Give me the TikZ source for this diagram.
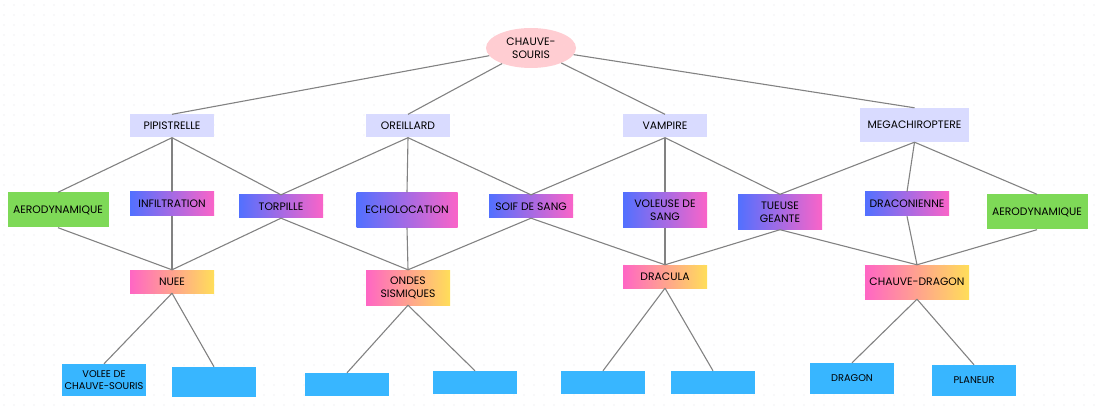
\documentclass[tikz,border=0pt]{standalone}
\usepackage{fontspec}
\setmainfont{Poppins}
\usetikzlibrary{shapes.geometric}
\definecolor{rootpink}{RGB}{255,205,210}
\definecolor{genrelav}{RGB}{217,219,255}
\definecolor{traitblue}{RGB}{82,112,255}
\definecolor{traitpink}{RGB}{250,100,200}
\definecolor{aerogreen}{RGB}{126,217,87}
\definecolor{hybpink}{RGB}{255,102,196}
\definecolor{hybyellow}{RGB}{255,222,89}
\definecolor{leafblue}{RGB}{56,182,255}
\definecolor{linkgray}{RGB}{130,130,130}
\definecolor{dotgray}{RGB}{225,225,228}
\tikzset{
  box/.style={inner sep=1pt, align=center, text=black,
    font=\fontsize{10.8}{13}\selectfont, minimum width=84pt, minimum height=23pt},
  rootnode/.style={ellipse, fill=rootpink, minimum width=90pt, minimum height=40pt,
    inner sep=0pt, align=center, text=black, font=\fontsize{10.8}{13.5}\selectfont},
  genrebox/.style={box, fill=genrelav},
  traitbox/.style={box, left color=traitblue, right color=traitpink},
  aerobox/.style={box, fill=aerogreen, minimum width=101pt, minimum height=35pt},
  hybbox/.style={box, left color=hybpink, right color=hybyellow},
  leafbox/.style={box, fill=leafblue, font=\fontsize{9.8}{11.5}\selectfont},
  link/.style={draw=linkgray, line width=1.1pt}
}

\begin{document}
\begin{tikzpicture}[x=1pt, y=-1pt]
  \useasboundingbox (0,0) rectangle (1103,414);
  % dotted canvas
  \foreach \gx in {4,14,...,1100}
    \foreach \gy in {5,15,...,410}
      \fill[dotgray] (\gx,\gy) circle (0.55);

  % root
  \node[rootnode] (root) at (531,48) {CHAUVE-\\SOURIS};

  % genres
  \node[genrebox] (pip) at (172,126) {PIPISTRELLE};
  \node[genrebox] (ore) at (408,126) {OREILLARD};
  \node[genrebox] (vam) at (665,126) {VAMPIRE};
  \node[genrebox, minimum width=109pt, minimum height=34pt] (meg) at (914.5,125) {MEGACHIROPTERE};

  % traits
  \node[aerobox] (aeroL) at (58,210) {AERODYNAMIQUE};
  \node[traitbox, minimum height=24pt] (infil) at (172,204) {INFILTRATION};
  \node[traitbox] (torp) at (281,206.5) {TORPILLE};
  \node[traitbox, minimum width=101pt, minimum height=35pt] (echo) at (407,210) {ECHOLOCATION};
  \node[traitbox] (soif) at (531,206.5) {SOIF DE SANG};
  \node[traitbox, minimum height=35pt] (vol) at (665,210) {VOLEUSE DE\\SANG};
  \node[traitbox, minimum height=35pt] (tue) at (780,212) {TUEUSE\\GEANTE};
  \node[traitbox, minimum height=24pt] (draco) at (907,204) {DRACONIENNE};
  \node[aerobox] (aeroR) at (1037,212) {AERODYNAMIQUE};

  % hybrids
  \node[hybbox] (nuee) at (172,281.5) {NUEE};
  \node[hybbox, minimum height=35pt] (ondes) at (408,287.5) {ONDES\\SISMIQUES};
  \node[hybbox] (dracula) at (665,276.5) {DRACULA};
  \node[hybbox, minimum width=104pt, minimum height=34pt] (cdragon) at (917,282) {CHAUVE-DRAGON};

  % leaves
  \node[leafbox, minimum height=32pt] (volee) at (104,380) {VOLEE DE\\CHAUVE-SOURIS};
  \node[leafbox, minimum height=30pt] (leafB) at (214,382) {};
  \node[leafbox] (leafC) at (347,384.5) {};
  \node[leafbox] (leafD) at (475,382.5) {};
  \node[leafbox] (leafE) at (603,382.5) {};
  \node[leafbox] (leafF) at (713,382.5) {};
  \node[leafbox, minimum height=31pt] (dragon) at (852,378.5) {DRAGON};
  \node[leafbox, minimum height=31pt] (planeur) at (974,380.5) {PLANEUR};

  % links root -> genres
  \foreach \g in {pip,ore,vam,meg}
    \draw[link] (root) -- (\g.north);

  % links genres -> traits
  \foreach \a/\b in {pip/aeroL,pip/infil,pip/torp,ore/torp,ore/echo,ore/soif,
                     vam/soif,vam/vol,vam/tue,meg/tue,meg/draco,meg/aeroR}
    \draw[link] (\a.south) -- (\b.north);

  % links traits -> hybrids
  \foreach \a/\b in {aeroL/nuee,infil/nuee,torp/nuee,torp/ondes,echo/ondes,soif/ondes,
                     soif/dracula,vol/dracula,tue/dracula,tue/cdragon,draco/cdragon,aeroR/cdragon}
    \draw[link] (\a.south) -- (\b.north);

  % links hybrids -> leaves
  \foreach \a/\b in {nuee/volee,nuee/leafB,ondes/leafC,ondes/leafD,
                     dracula/leafE,dracula/leafF,cdragon/dragon,cdragon/planeur}
    \draw[link] (\a.south) -- (\b.north);
\end{tikzpicture}
\end{document}
